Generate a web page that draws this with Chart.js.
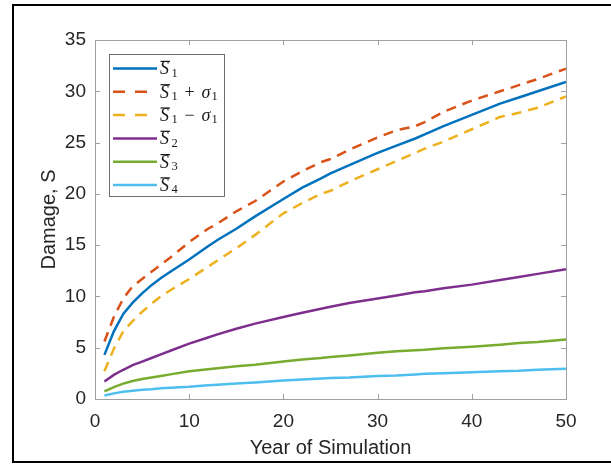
<!DOCTYPE html>
<html>
<head>
<meta charset="utf-8">
<script src="https://cdn.jsdelivr.net/npm/chart.js@4.4.1/dist/chart.umd.min.js"></script>
<style>
    html, body { margin: 0; padding: 0; background: #fff; }
    #wrap { width: 611px; height: 466px; }
</style>
</head>
<body>
<div id="wrap"><canvas id="damageChart" width="611" height="466"></canvas></div>
<script>
// years of the simulation where values were read
const years = [1, 2, 3, 4, 5, 6, 7, 8, 10, 12, 13, 15, 17, 20, 22, 24, 25, 27, 30, 32, 34, 35, 37, 40, 43, 45, 47, 50];

const s1Mean = [4.3, 6.6, 8.3, 9.4, 10.3, 11.1, 11.8, 12.4, 13.6, 14.9, 15.5, 16.6, 17.8, 19.5, 20.6, 21.5, 22.0, 22.8, 24.0, 24.7, 25.4, 25.8, 26.6, 27.7, 28.8, 29.4, 30.0, 30.9];
const s1Plus = [5.6, 8.0, 9.8, 11.0, 11.7, 12.4, 13.1, 13.8, 15.3, 16.6, 17.1, 18.3, 19.3, 21.2, 22.2, 23.1, 23.4, 24.3, 25.5, 26.2, 26.6, 27.0, 28.0, 29.1, 30.0, 30.6, 31.2, 32.2];
const s1Minus = [2.7, 4.9, 6.6, 7.6, 8.5, 9.3, 10.0, 10.6, 11.7, 12.9, 13.5, 14.7, 16.0, 18.1, 19.1, 20.0, 20.3, 21.2, 22.4, 23.2, 24.0, 24.4, 25.1, 26.3, 27.5, 27.9, 28.4, 29.5];
const s2Mean = [1.7, 2.35, 2.85, 3.3, 3.65, 4.0, 4.35, 4.7, 5.4, 6.0, 6.3, 6.85, 7.35, 8.0, 8.4, 8.8, 9.0, 9.35, 9.8, 10.1, 10.4, 10.5, 10.8, 11.15, 11.6, 11.9, 12.2, 12.65];
const s3Mean = [0.75, 1.15, 1.5, 1.75, 1.95, 2.1, 2.25, 2.4, 2.7, 2.9, 3.0, 3.2, 3.35, 3.65, 3.85, 4.0, 4.1, 4.25, 4.5, 4.65, 4.75, 4.8, 4.95, 5.1, 5.3, 5.45, 5.55, 5.8];
const s4Mean = [0.35, 0.55, 0.7, 0.8, 0.9, 0.95, 1.05, 1.1, 1.2, 1.35, 1.4, 1.5, 1.6, 1.8, 1.9, 2.0, 2.05, 2.1, 2.25, 2.3, 2.4, 2.45, 2.5, 2.6, 2.7, 2.75, 2.85, 2.95];

const xTicks = [0, 10, 20, 30, 40, 50];
const yTicks = [0, 5, 10, 15, 20, 25, 30, 35];

// legend label parts: subscript index and optional "+ sigma" / "- sigma"
const legendSubs = ["1", "1", "1", "2", "3", "4"];
const legendOps = [null, "+", "\u2212", null, null, null];

const toPoints = (values) => years.map((yr, i) => ({ x: yr, y: values[i] }));

const makeDataset = (values, color, dashed) => {
    return {
        data: toPoints(values),
        borderColor: color,
        borderWidth: 2.5,
        borderDash: dashed ? [10, 7] : [],
        pointRadius: 0,
        tension: 0,
        fill: false
    };
}

const textColor = "#262626";
const boxColor = "#a0a0a0";

const drawMathLabel = (ctx, x, mid, sub, op) => {
    const base = mid + 5.8;
    ctx.fillStyle = "#1a1a1a";
    ctx.textAlign = "left";
    ctx.textBaseline = "alphabetic";
    ctx.font = "italic 18px 'Liberation Serif'";
    ctx.fillText("S", x, base);
    const sW = ctx.measureText("S").width;
    ctx.fillRect(x + 0.5, base - 13.5, sW + 0.5, 1.2); // overline
    ctx.font = "12.5px 'Liberation Serif'";
    ctx.fillText(sub, x + 11.5, base + 2.5);
    if (op) {
        ctx.font = "18px 'Liberation Serif'";
        ctx.fillText(op, x + 24.5, base);
        ctx.font = "italic 18px 'Liberation Serif'";
        ctx.fillText("\u03c3", x + 41.5, base);
        ctx.font = "12.5px 'Liberation Serif'";
        ctx.fillText("1", x + 51.5, base + 2.5);
    }
}

const matlabLook = {
    id: "matlabLook",
    afterDatasetsDraw(chart) {
        const ctx = chart.ctx;
        const area = chart.chartArea;
        const xs = chart.scales.x;
        const ys = chart.scales.y;
        ctx.save();
        // axes box
        ctx.strokeStyle = boxColor;
        ctx.lineWidth = 1;
        ctx.setLineDash([]);
        ctx.strokeRect(Math.round(area.left) + 0.5, Math.round(area.top) + 0.5,
            Math.round(area.right - area.left), Math.round(area.bottom - area.top));
        // inward tick marks on all four sides
        ctx.beginPath();
        xTicks.forEach(v => {
            const px = Math.round(xs.getPixelForValue(v)) + 0.5;
            ctx.moveTo(px, area.bottom);
            ctx.lineTo(px, area.bottom - 5);
            ctx.moveTo(px, area.top);
            ctx.lineTo(px, area.top + 5);
        });
        yTicks.forEach(v => {
            const py = Math.round(ys.getPixelForValue(v)) + 0.5;
            ctx.moveTo(area.left, py);
            ctx.lineTo(area.left + 5, py);
            ctx.moveTo(area.right, py);
            ctx.lineTo(area.right - 5, py);
        });
        ctx.stroke();

        // legend box
        const lx = 109.5, ly = 54.5, lw = 115, lh = 142;
        ctx.fillStyle = "#fff";
        ctx.fillRect(lx, ly, lw, lh);
        ctx.strokeStyle = "#6e6e6e";
        ctx.strokeRect(lx, ly, lw, lh);
        chart.data.datasets.forEach((ds, i) => {
            const rowY = 68.5 + i * 23.3;
            ctx.strokeStyle = ds.borderColor;
            ctx.lineWidth = 2.5;
            ctx.setLineDash(ds.borderDash.length ? [12, 10] : []);
            ctx.beginPath();
            ctx.moveTo(113, rowY);
            ctx.lineTo(157, rowY);
            ctx.stroke();
            ctx.setLineDash([]);
            drawMathLabel(ctx, 160, rowY, legendSubs[i], legendOps[i]);
        });

        // outer figure frame
        ctx.strokeStyle = "#000";
        ctx.lineWidth = 2;
        ctx.strokeRect(13, 5, 700, 457);
        ctx.restore();
    }
};

const config = {
    type: "line",
    data: {
        datasets: [
            makeDataset(s1Mean, "#0072BD", false),
            makeDataset(s1Plus, "#D95319", true),
            makeDataset(s1Minus, "#EDB120", true),
            makeDataset(s2Mean, "#7E2F8E", false),
            makeDataset(s3Mean, "#77AC30", false),
            makeDataset(s4Mean, "#4DBEEE", false)
        ]
    },
    options: {
        responsive: false,
        animation: false,
        devicePixelRatio: 1,
        layout: { padding: { left: 0, right: 45, top: 40, bottom: 0 } },
        plugins: {
            legend: { display: false },
            tooltip: { enabled: false }
        },
        scales: {
            x: {
                type: "linear",
                min: 0,
                max: 50,
                afterFit: (scale) => { scale.height = 67; },
                afterBuildTicks: (scale) => { scale.ticks = xTicks.map(v => ({ value: v })); },
                grid: { display: false, drawTicks: false },
                border: { display: false },
                ticks: {
                    color: textColor,
                    font: { family: "'Liberation Sans', Arial, sans-serif", size: 19 },
                    padding: 11,
                    maxRotation: 0
                },
                title: {
                    display: true,
                    text: "Year of Simulation",
                    color: textColor,
                    font: { family: "'Liberation Sans', Arial, sans-serif", size: 20 },
                    padding: { top: 0, bottom: 6 }
                }
            },
            y: {
                min: 0,
                max: 35,
                afterFit: (scale) => { scale.width = 95; },
                afterBuildTicks: (scale) => { scale.ticks = yTicks.map(v => ({ value: v })); },
                grid: { display: false, drawTicks: false },
                border: { display: false },
                ticks: {
                    color: textColor,
                    font: { family: "'Liberation Sans', Arial, sans-serif", size: 19 },
                    padding: 9
                },
                title: {
                    display: true,
                    text: "Damage, S",
                    color: textColor,
                    font: { family: "'Liberation Sans', Arial, sans-serif", size: 20 },
                    padding: { top: 37, bottom: 0 }
                }
            }
        }
    },
    plugins: [matlabLook]
};

const damageChart = new Chart(document.getElementById("damageChart"), config);
</script>
</body>
</html>
